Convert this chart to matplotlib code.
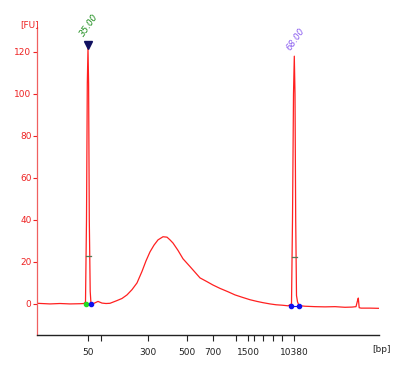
import matplotlib
matplotlib.use("Agg")
import matplotlib.pyplot as plt

# migration position (arbitrary units) and fluorescence (FU)
trace_x = [37, 50, 60, 70, 80, 84, 85.5, 86.5, 87.3, 88.0, 88.6, 89.3, 90.2, 91, 94, 98, 102, 106, 110,
           117, 122, 127, 132, 137, 142, 146, 150, 154, 158, 163, 167, 170, 173, 178, 183, 190, 200,
           207, 213, 220, 228, 235, 242, 250, 257, 263, 270, 276, 282, 288, 291.5, 292.5, 293.5,
           294.3, 295.0, 295.7, 296.5, 297.5, 299, 305, 315, 325, 335, 345, 352, 356,
           357.5, 358.3, 359.2, 361, 370, 379]
trace_y = [0.3, 0.0, 0.2, 0.0, 0.1, 0.2, 1.0, 40, 105, 122, 105, 40, 6, 0.0, 0.3, 1.2, 0.4, 0.2, 0.3,
           1.6, 2.6, 4.3, 6.8, 10.0, 15.5, 20.5, 24.8, 28.0, 30.5, 32.0, 31.8, 30.5, 29.0, 25.5, 21.5, 17.8, 12.4,
           10.6, 9.0, 7.4, 5.8, 4.3, 3.2, 2.0, 1.2, 0.6, 0.0, -0.4, -0.6, -0.9, 0.0, 40, 100,
           118, 100, 40, 4, 1.0, -0.8, -1.1, -1.3, -1.4, -1.3, -1.6, -1.5, -1.3,
           1.5, 2.8, -1.8, -2.0, -2.0, -2.1]

# size ladder (bp) and its migration positions
ladder_pos = [88.3, 100.7, 147.7, 186.7, 212.7, 235.7, 248.3, 254.0, 263.3, 273.3, 281.7, 294.3]
ladder_lbl = ["50", "", "300", "500", "700", "", "1500", "", "", "", "", "10380"]

# marker peaks
peak_pos = [88.0, 294.3]
peak_top = [122, 118]
peak_text = ["35.00", "68.00"]
peak_color = ["#1a8c1a", "#8a5cf0"]
label_off = [4.5, 2.0]
half_mark = [23, 22.4]
start_pos = [86.0, 291.0]
end_pos = [91.0, 299.0]
start_y = [0.0, -1.0]
end_y = [0.0, -1.0]
start_color = ["#22dd22", "#1010ee"]

red = "#ee2222"
fig = plt.figure(figsize=(4.04, 3.68), dpi=100)
ax = fig.add_axes([37/404, 1-335/368, (379-37)/404, (335-27)/368])
ax.plot(trace_x, trace_y, color="#ff2020", lw=0.9, zorder=2)

ax.set_xlim(37, 379)
ax.set_ylim(-14.8, 131.9)

for s in ["top", "right"]:
    ax.spines[s].set_visible(False)
ax.spines["left"].set_color("#f06060")
ax.spines["left"].set_linewidth(0.9)
ax.spines["bottom"].set_color("#222222")
ax.spines["bottom"].set_linewidth(1.0)

ax.set_yticks([0, 20, 40, 60, 80, 100, 120])
ax.tick_params(axis="y", colors=red, labelcolor=red, length=3, width=0.8, labelsize=6.5, pad=1)
ax.set_xticks(ladder_pos)
ax.set_xticklabels(ladder_lbl)
ax.tick_params(axis="x", colors="#222222", labelcolor="#222222", length=4.5, width=0.8, labelsize=6.5, pad=5)
for lab in ax.get_xticklabels() + ax.get_yticklabels():
    lab.set_fontfamily(["Liberation Sans Narrow", "DejaVu Sans"])

fig.text(20/404, 1-25/368, "[FU]", color=red, fontsize=6.5, ha="left", va="center",
         family=["Liberation Sans Narrow", "DejaVu Sans"])
fig.text(372/404, 1-350/368, "[bp]", color="#222222", fontsize=6.5, ha="left", va="center",
         family=["Liberation Sans Narrow", "DejaVu Sans"])

for i in range(2):
    ax.plot([peak_pos[i] - 2.5, peak_pos[i] + 2.5], [half_mark[i]] * 2, color="#557755", lw=0.9, zorder=3)
    ax.plot([start_pos[i], end_pos[i]], [start_y[i], end_y[i]], color="#1010ee", lw=0.8, zorder=3)
    ax.plot(start_pos[i], start_y[i], "o", ms=3, color=start_color[i], zorder=4)
    ax.plot(end_pos[i], end_y[i], "o", ms=3, color="#1010ee", zorder=4)
    ax.text(peak_pos[i] - 2, peak_top[i] + label_off[i], peak_text[i], rotation=55, color=peak_color[i],
            fontsize=6.3, ha="left", va="bottom", rotation_mode="anchor", fontstyle="italic",
            family=["Liberation Sans Narrow", "DejaVu Sans"], zorder=5)

ax.plot(peak_pos[0], peak_top[0] + 1.5, marker="v", ms=5.5, color="#101060", zorder=5, clip_on=False)

fig.savefig("out.png", dpi=100)
